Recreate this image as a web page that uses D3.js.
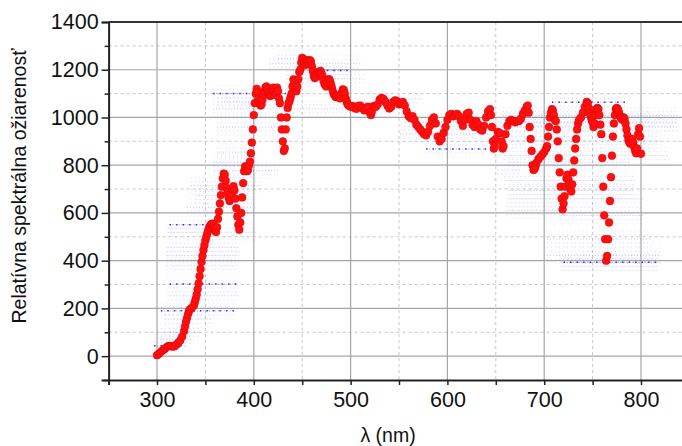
<!DOCTYPE html>
<html>
<head>
<meta charset="utf-8">
<script src="https://cdn.jsdelivr.net/npm/d3@7"></script>
<style>
  body { margin: 0; background: #fff; }
  text { font-family: "Liberation Sans", Arial, sans-serif; }
</style>
</head>
<body>
<svg id="chart" width="682" height="446"></svg>
<script>
// Spectral irradiance samples (wavelength in nm, relative value)
const wavelengthNm = [
  300,302,304,306,308,310,312,314,316,318,320,322,324,326,328,329,330,331,332,333,334,336,338,339,
  340,341,342,343,344,345,346,347,348,349,350,351,352,353,354,355,356,357,358,359,360,361,362,363,
  364,365,366,367,368,369,370,371,372,373,374,375,376,377,378,379,380,381,382,383,384,385,386,387,
  388,389,390,391,392,393,394,395,396,397,398,399,400,401,402,403,404,405,406,407,408,409,410,411,
  412,413,414,415,416,417,418,419,420,421,422,423,424,425,426,427,428,429,430,431,432,433,434,435,
  436,437,438,439,440,441,442,443,444,445,446,447,448,449,450,451,452,453,454,455,456,457,458,459,
  460,461,462,463,464,465,466,467,468,469,470,471,472,473,474,475,476,477,478,479,480,481,482,483,
  484,485,486,487,488,489,490,491,492,493,494,495,496,497,498,500,502,504,506,508,510,512,514,516,
  518,520,521,522,524,526,528,530,532,534,536,538,540,542,544,546,548,550,552,554,556,558,560,562,
  564,566,568,570,572,574,576,578,580,582,584,586,588,590,592,594,596,598,600,602,604,606,608,610,
  612,614,616,618,620,622,624,626,628,630,632,634,636,638,640,642,644,645,646,647,648,649,650,652,
  654,656,657,658,660,662,664,666,668,670,672,674,676,678,680,682,683,684,685,686,687,688,689,690,
  691,692,694,696,698,700,702,703,704,705,706,707,708,709,710,711,712,713,714,715,716,717,718,719,
  720,721,722,723,724,725,726,727,728,729,730,731,732,733,734,735,736,738,740,742,744,745,746,747,
  748,749,750,751,752,753,754,755,756,757,758,759,760,761,762,763,764,765,766,767,768,769,770,771,
  772,773,774,775,776,777,778,779,780,781,782,783,784,785,786,787,788,789,790,791,792,793,794,795,
  796,797,798,799,800
];
const relIrradiance = [
  4,10,18,25,30,38,43,42,40,41,48,56,66,82,105,125,145,160,175,188,196,202,212,225,
  240,258,280,305,335,365,395,420,445,465,485,500,515,528,540,548,552,555,552,540,525,520,540,575,
  605,640,675,710,745,765,760,735,705,685,665,650,660,680,700,712,695,660,620,585,550,530,560,600,
  665,725,775,795,790,775,780,800,815,850,895,950,1010,1060,1100,1120,1105,1080,1060,1050,1055,1075,1095,1110,
  1125,1130,1120,1105,1095,1090,1095,1110,1125,1110,1095,1100,1125,1110,1080,1060,1000,950,900,860,870,950,1000,1040,
  1060,1070,1085,1100,1130,1160,1150,1120,1110,1130,1160,1190,1200,1230,1250,1245,1230,1220,1225,1240,1235,1225,1240,1235,
  1215,1195,1175,1165,1170,1180,1190,1185,1190,1195,1185,1170,1155,1140,1135,1130,1145,1160,1160,1150,1135,1120,1105,1095,
  1090,1085,1088,1092,1085,1080,1090,1105,1118,1115,1100,1080,1065,1055,1050,1045,1048,1040,1036,1048,1050,1040,1030,1040,
  1045,1020,1010,1025,1048,1045,1055,1075,1082,1078,1065,1050,1038,1045,1065,1072,1068,1055,1060,1065,1050,1025,1005,998,
  1005,990,970,960,950,940,930,925,940,965,990,1000,975,920,900,910,935,960,990,1010,1015,1005,1010,1015,
  1005,985,965,990,1015,1020,990,970,960,985,970,950,945,965,1000,1025,1035,1010,960,900,870,880,910,940,
  935,900,870,880,930,965,985,990,985,980,985,985,995,1015,1030,1045,1050,1020,960,910,860,800,780,785,
  795,810,825,835,845,855,870,880,920,960,1000,1020,1035,1030,1010,990,985,950,900,830,770,710,660,615,
  640,670,710,745,760,740,720,700,690,720,770,820,870,910,950,975,990,1000,1020,1045,1065,1060,1040,1020,
  1005,990,980,960,975,1010,1035,1040,1035,1010,970,930,830,710,590,490,400,420,490,560,650,750,840,920,
  975,1010,1035,1040,1035,1025,1010,1000,995,990,1000,995,975,950,925,905,895,890,905,910,895,875,860,850,
  870,930,955,920,848
];

// Faint secondary scan: horizontal runs of dots (start nm, end nm, level, tone)
const bandStart = [297,300,304,308,304,311,313,310,310,311,311,313,331,340,335,359,358,362,358,362,363,358,416,434,
                   440,462,425,560,551,556,578,652,657,708,663,650,654,659,663,661,659,664,662,717,703,703,717,720];
const bandEnd   = [330,335,345,358,380,385,384,382,385,384,402,362,398,395,407,425,398,396,541,434,407,447,510,515,
                   470,497,450,573,659,838,640,676,838,784,811,838,820,829,788,721,793,793,802,802,811,820,820,818];
const bandLevel = [43,71,99,155,190,253,302,379,421,456,519,551,624,673,715,777,813,855,1036,960,1064,1100,1225,1162,
                   1197,1197,1246,1078,931,980,868,780,1008,1064,1001,960,903,840,813,610,736,694,659,589,491,421,393,393];
const bandTone  = [1,0,0,0,1,0,1,0,0,0,0,1,0,0,0,0,0,0,0,0,0,1,0,0,
                   0,1,0,0,0,0,1,0,0,1,0,0,0,0,0,0,0,0,0,0,0,0,0,1];

const xMajor = [300,400,500,600,700,800];
const xMinor = [250,350,450,550,650,750,850];
const yMajor = [0,200,400,600,800,1000,1200,1400];
const yMinor = [-100,100,300,500,700,900,1100,1300];

const svg = d3.select("#chart");
const x = d3.scaleLinear().domain([250, 850]).range([108.6, 689.4]);
const y = d3.scaleLinear().domain([-100, 1400]).range([380, 22]);
const plotLeft = x(250), plotBottom = y(-100), plotTop = y(1400), plotRight = 682;

// grid
const grid = svg.append("g");
grid.selectAll(null).data(xMinor.filter(d => d > 250)).join("line")
  .attr("x1", d => x(d)).attr("x2", d => x(d)).attr("y1", plotTop).attr("y2", plotBottom)
  .attr("stroke", "#c8c8c8").attr("stroke-width", 1).attr("stroke-dasharray", "3,3");
grid.selectAll(null).data(yMinor.filter(d => d > -100)).join("line")
  .attr("x1", plotLeft).attr("x2", plotRight).attr("y1", d => y(d)).attr("y2", d => y(d))
  .attr("stroke", "#c8c8c8").attr("stroke-width", 1).attr("stroke-dasharray", "3,3");
grid.selectAll(null).data(xMajor).join("line")
  .attr("x1", d => x(d)).attr("x2", d => x(d)).attr("y1", plotTop).attr("y2", plotBottom)
  .attr("stroke", "#a6a6a6").attr("stroke-width", 1.2);
grid.selectAll(null).data(yMajor.slice(0, -1)).join("line")
  .attr("x1", plotLeft).attr("x2", plotRight).attr("y1", d => y(d)).attr("y2", d => y(d))
  .attr("stroke", "#a6a6a6").attr("stroke-width", 1.2);

// secondary scan dots: each run is drawn as a few stacked dotted rows
const bands = bandStart.map((s, i) => ({ s, e: bandEnd[i], v: bandLevel[i], t: bandTone[i] }));
const bg = svg.append("g");
[-8, -4, 0, 4, 8].forEach(off => {
  const edge = Math.abs(off) === 8;
  bg.append("g").selectAll("line").data(bands).join("line")
    .attr("x1", d => x(d.s)).attr("x2", d => x(d.e))
    .attr("y1", d => y(d.v) + off).attr("y2", d => y(d.v) + off)
    .attr("stroke", "#5a5aff")
    .attr("stroke-opacity", d => (off === 0 ? (d.t ? 0.6 : 0.42) : edge ? 0.14 : 0.26))
    .attr("stroke-width", 1)
    .attr("stroke-dasharray", off === 0 ? "1,2" : "1,3");
});
bg.append("g").selectAll("line").data(bands.filter(d => d.t)).join("line")
  .attr("x1", d => x(d.s)).attr("x2", d => x(d.e))
  .attr("y1", d => y(d.v)).attr("y2", d => y(d.v))
  .attr("stroke", "#1010ff").attr("stroke-opacity", 0.85)
  .attr("stroke-width", 1.5).attr("stroke-dasharray", "1.5,5");

// main spectrum
const pts = wavelengthNm.map((w, i) => ({ w, v: relIrradiance[i] }));
svg.append("g").selectAll("circle").data(pts).join("circle")
  .attr("cx", d => x(d.w)).attr("cy", d => y(d.v)).attr("r", 3.9)
  .attr("fill", "#ff1010").attr("stroke", "#e00000").attr("stroke-width", 0.5);

// axes
svg.append("g").attr("transform", `translate(${plotLeft},0)`)
  .call(d3.axisLeft(y).tickValues(yMajor).tickSize(7).tickPadding(3).tickFormat(d3.format("d")));
svg.append("g").attr("transform", `translate(${plotLeft},0)`)
  .call(d3.axisLeft(y).tickValues(yMinor).tickSize(4).tickFormat(""))
  .call(g => g.select(".domain").remove());
svg.append("g").attr("transform", `translate(0,${plotBottom})`)
  .call(d3.axisBottom(x).tickValues(xMajor).tickSize(5).tickPadding(7).tickFormat(d3.format("d")));
svg.append("g").attr("transform", `translate(0,${plotBottom})`)
  .call(d3.axisBottom(x).tickValues(xMinor).tickSize(5).tickFormat(""))
  .call(g => g.select(".domain").remove());

svg.selectAll(".domain").attr("stroke", "#222").attr("stroke-width", 2);
svg.selectAll(".tick line").attr("stroke", "#222").attr("stroke-width", 1.5);
svg.selectAll(".tick text").attr("font-size", 21.5).attr("fill", "#111")
  .attr("font-family", '"Liberation Sans", Arial, sans-serif');

// top frame
svg.append("line").attr("x1", plotLeft).attr("x2", plotRight).attr("y1", plotTop).attr("y2", plotTop)
  .attr("stroke", "#333").attr("stroke-width", 2);

// titles
svg.append("text").attr("x", 388).attr("y", 442).attr("text-anchor", "middle")
  .attr("font-size", 19.5).attr("fill", "#111").text("λ (nm)");
svg.append("text").attr("transform", "translate(26,186) rotate(-90)").attr("text-anchor", "middle")
  .attr("font-size", 19.5).attr("fill", "#111").text("Relatívna spektrálna ožiarenosť");
</script>
</body>
</html>
